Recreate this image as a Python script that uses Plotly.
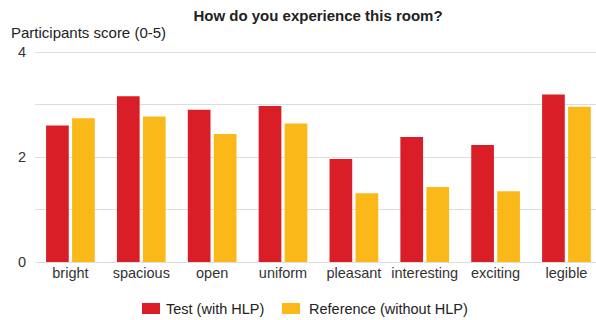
import plotly.graph_objects as go

# Survey results: mean participant score per attribute
categories = ["bright", "spacious", "open", "uniform", "pleasant", "interesting", "exciting", "legible"]
test_scores = [2.60, 3.16, 2.90, 2.97, 1.96, 2.38, 2.23, 3.19]
reference_scores = [2.74, 2.77, 2.44, 2.64, 1.31, 1.43, 1.35, 2.96]
series_names = ["Test (with HLP)", "Reference (without HLP)"]
series_colors = ["#DA1E28", "#FBB919"]
y_tick_values = [0, 2, 4]

W, H = 596, 320
ML, MR, MT, MB = 35, 0, 51, 58
PW, PH = W - ML - MR, H - MT - MB
Y_TOP = 4.02  # a hair above 4 so the top gridline is drawn
FONT = "Liberation Sans, Arial, sans-serif"
TEXT = "#333333"
GRID = "#dddddd"


def px_x(px):
    return (px - ML) / PW


def px_y(py):
    return (H - MB - py) / PH


fig = go.Figure()
for name, vals, col in zip(series_names, [test_scores, reference_scores], series_colors):
    fig.add_trace(go.Bar(x=categories, y=vals, name=name, marker=dict(color=col, line=dict(width=0)),
                         showlegend=False))

fig.update_layout(
    width=W, height=H,
    margin=dict(l=ML, r=MR, t=MT, b=MB, pad=0),
    paper_bgcolor="white", plot_bgcolor="white",
    barmode="group", bargap=0.266, bargroupgap=0.127,
    font=dict(family=FONT, size=14.5, color=TEXT),
    title=dict(text="<b>How do you experience this room?</b>", x=318 / W,
               xanchor="center", y=1 - 16 / H, yanchor="middle",
               font=dict(family=FONT, size=15, color="#222222")),
    xaxis=dict(range=[-0.5, 7.417], showgrid=False, showline=False, zeroline=False,
               ticks="", tickfont=dict(size=14.5, color=TEXT)),
    yaxis=dict(range=[0, Y_TOP], tickvals=y_tick_values, showgrid=True, gridcolor=GRID, gridwidth=1,
               zeroline=True, zerolinecolor=GRID, zerolinewidth=1, showline=False,
               ticks="", ticklabelstandoff=8, tickfont=dict(size=14.5, color=TEXT),
               minor=dict(dtick=1, showgrid=True, gridcolor=GRID, gridwidth=1)),
)

# Axis caption above the value axis
fig.add_annotation(text="Participants score (0-5)", xref="paper", yref="paper",
                   x=px_x(9), y=px_y(32), xanchor="left", yanchor="middle", showarrow=False,
                   font=dict(family=FONT, size=15, color="#222222"))

# Legend: colour swatches with series names
legend_items = [(142, 164), (282, 307)]
for (sx, tx), name, col in zip(legend_items, series_names, series_colors):
    fig.add_shape(type="rect", xref="paper", yref="paper",
                  x0=px_x(sx), x1=px_x(sx + 18), y0=px_y(314), y1=px_y(303),
                  fillcolor=col, line=dict(width=0))
    fig.add_annotation(text=name, xref="paper", yref="paper", x=px_x(tx), y=px_y(308.5),
                       xanchor="left", yanchor="middle", showarrow=False,
                       font=dict(family=FONT, size=14.5, color="#222222"))

fig.write_html("out.html")
